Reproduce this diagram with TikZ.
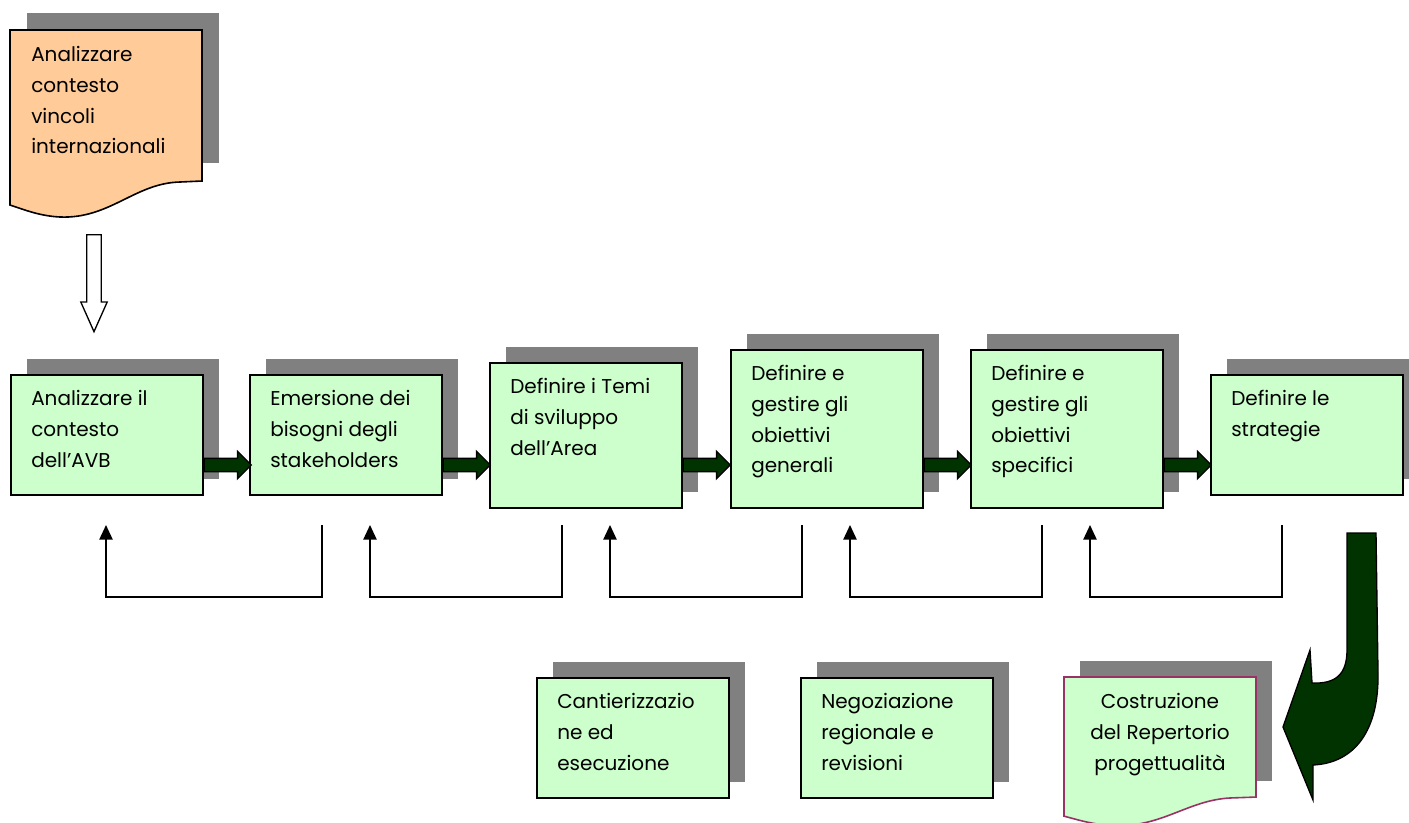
\documentclass[tikz,border=0pt]{standalone}
\usepackage{fontspec}
\setmainfont{Poppins}
\usetikzlibrary{positioning, calc, arrows.meta, shapes.arrows, shadows}
\definecolor{boxgreen}{HTML}{CCFFCC}
\definecolor{docorange}{HTML}{FFCC99}
\definecolor{shadowgray}{HTML}{808080}
\definecolor{arrowgreen}{HTML}{003300}
\definecolor{docborder}{HTML}{993366}
\tikzset{
  > = {Triangle[length = 11pt, width = 10pt]},
  stage/.style = {draw, line width = 1.2pt, fill = boxgreen, anchor = north west,
    minimum width = 144pt, inner sep = 0pt,
    copy shadow = {shadow xshift = 12pt, shadow yshift = 12pt, draw = none, fill = shadowgray}},
  stagetext/.style = {anchor = north west, align = left, inner sep = 0pt,
    font = \fontsize{15}{23.1}\selectfont},
  doc/.style = {draw, line width = 1.2pt},
  flow/.style = {single arrow, draw, line width = 1pt, fill = arrowgreen, inner sep = 4.5pt,
    single arrow head extend = 5.25pt, single arrow tip angle = 90, minimum height = 35.25pt},
  hollow/.style = {single arrow, draw, line width = 1pt, fill = white, inner sep = 4.9pt,
    single arrow head extend = 4.5pt, single arrow tip angle = 48, minimum height = 72.75pt,
    rotate = -90},
  feedback/.style = {->, line width = 1.1pt},
  bigarrow/.style = {draw, line width = 1pt, fill = arrowgreen}
}

\begin{document}
\begin{tikzpicture}[x = 0.75pt, y = -0.75pt]
\useasboundingbox (0,0) rectangle (1409,822);

%% International context
\fill [shadowgray] (27,13) rectangle ++(192,150);
\begin{scope}[shift = {(10,30)}]
  \draw [doc, fill = docorange] (0,0) -- (192,0) -- (192,151) -- (170,152)
    .. controls (125,153) and (100,189) .. (50,187)
    .. controls (30,186) and (15,180) .. (0,175) -- cycle;
\end{scope}
\node [stagetext] (intl) at (31,46) {Analizzare\\contesto\\vincoli\\internazionali};
\node [hollow, anchor = tail] (down) at (94,234) {};

%% Stages
\node [stage, minimum height = 90pt] (s1) at (10,374) {};
\node [stage, minimum height = 90pt] (s2) at (249,374) {};
\node [stage, minimum height = 108.75pt] (s3) at (489,362) {};
\node [stage, minimum height = 118.5pt] (s4) at (730,349) {};
\node [stage, minimum height = 118.5pt] (s5) at (970,349) {};
\node [stage, minimum height = 90pt] (s6) at (1210,374) {};

\node [stagetext] (t1) at ([shift = {(21,16)}]s1.north west) {Analizzare il\\contesto\\dell’AVB};
\node [stagetext] (t2) at ([shift = {(21,16)}]s2.north west) {Emersione dei\\bisogni degli\\stakeholders};
\node [stagetext] (t3) at ([shift = {(21,16)}]s3.north west) {Definire i Temi\\di sviluppo\\dell’Area};
\node [stagetext] (t4) at ([shift = {(21,16)}]s4.north west) {Definire e\\gestire gli\\obiettivi\\generali};
\node [stagetext] (t5) at ([shift = {(21,16)}]s5.north west) {Definire e\\gestire gli\\obiettivi\\specifici};
\node [stagetext] (t6) at ([shift = {(21,16)}]s6.north west) {Definire le\\strategie};

%% Flow between stages
\coordinate (row) at (0,465);
\foreach \i in {1,...,5}
  \node [flow, anchor = tail] (a\i) at (s\i.east |- row) {};

%% Feedback loops
\foreach \s/\t [count = \i] in {322/106, 562/370, 802/610, 1042/850, 1282/1090} {
  \coordinate (fs\i) at (\s,525);
  \coordinate (ft\i) at (\t,525);
  \draw [feedback] (fs\i) -- ++(0,72) -| (ft\i);
}

%% Outputs
\node [stage, minimum height = 90pt] (c1) at (536,677) {};
\node [stage, minimum height = 90pt] (c2) at (800,677) {};
\node [stagetext] (ct1) at ([shift = {(21,16)}]c1.north west) {Cantierizzazio\\ne ed\\esecuzione};
\node [stagetext] (ct2) at ([shift = {(21,16)}]c2.north west) {Negoziazione\\regionale e\\revisioni};

\fill [shadowgray] (1080,661) rectangle ++(192,120);
\begin{scope}[shift = {(1064,677)}, yscale = 0.795]
  \draw [doc, draw = docborder, fill = boxgreen] (0,0) -- (192,0) -- (192,151) -- (170,152)
    .. controls (125,153) and (100,189) .. (50,187)
    .. controls (30,186) and (15,180) .. (0,175) -- cycle;
\end{scope}
\node [stagetext, anchor = north, align = center] (rep) at (1160,693) {Costruzione\\del Repertorio\\progettualità};

%% Big arrow towards the repertorio
\path [bigarrow] (1347,533) -- (1376,533) -- (1378,673)
  .. controls (1379,730) and (1355,763) .. (1313,765)
  -- (1313,800) -- (1283,727) -- (1310,650) -- (1312,683)
  .. controls (1335,684) and (1347,675) .. (1347,650) -- cycle;

\end{tikzpicture}
\end{document}
